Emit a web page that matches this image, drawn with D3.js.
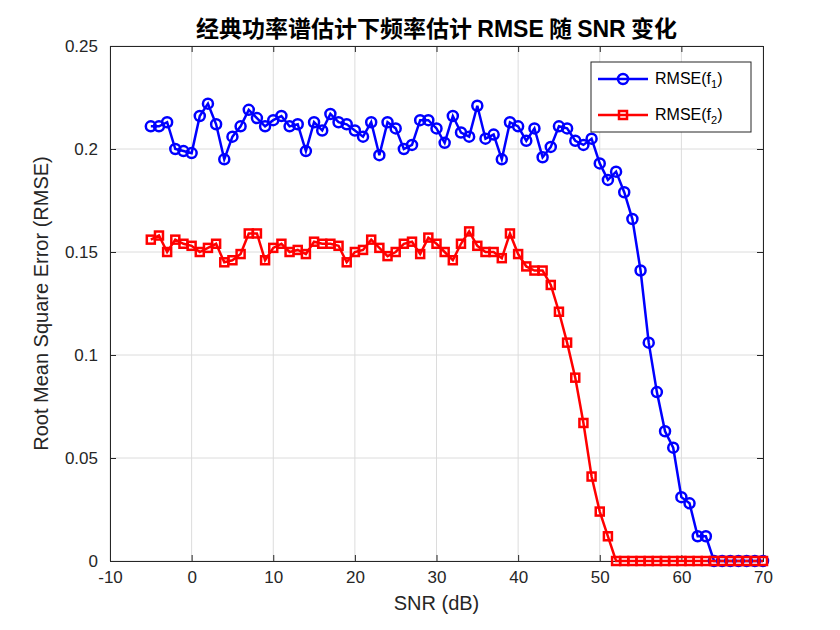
<!DOCTYPE html>
<html><head><meta charset="utf-8">
<script src="https://cdn.jsdelivr.net/npm/d3@7"></script>
<style>body{margin:0;background:#fff}svg{font-family:"Liberation Sans",Arial,sans-serif}</style>
</head><body><svg id="c" width="840" height="630"></svg>
<script>
const snr = d3.range(-5, 71);
const rmse1 = [0.211,0.211,0.213,0.200,0.199,0.198,0.216,0.222,0.212,0.195,0.206,0.211,0.219,0.215,0.211,0.214,0.216,0.211,0.212,0.199,0.213,0.209,0.217,0.213,0.212,0.209,0.206,0.213,0.197,0.213,0.210,0.200,0.202,0.214,0.214,0.210,0.203,0.216,0.208,0.206,0.221,0.205,0.207,0.195,0.213,0.211,0.204,0.210,0.196,0.201,0.211,0.210,0.204,0.202,0.205,0.193,0.185,0.189,0.179,0.166,0.141,0.106,0.082,0.063,0.055,0.031,0.028,0.012,0.012,0,0,0,0,0,0,0,0];
const rmse2 = [0.156,0.158,0.150,0.156,0.154,0.153,0.150,0.152,0.154,0.145,0.146,0.149,0.159,0.159,0.146,0.152,0.154,0.150,0.151,0.149,0.155,0.154,0.154,0.153,0.145,0.150,0.151,0.156,0.152,0.148,0.150,0.154,0.155,0.149,0.157,0.154,0.150,0.146,0.154,0.160,0.153,0.150,0.150,0.147,0.159,0.149,0.143,0.141,0.141,0.134,0.121,0.106,0.089,0.067,0.041,0.024,0.012,0,0,0,0,0,0,0,0,0,0,0,0,0,0,0,0,0,0,0];
const xTicks = [-10,0,10,20,30,40,50,60,70];
const yTicks = [0,0.05,0.1,0.15,0.2,0.25];

const svg = d3.select("#c");
const L=110,R=763,T=46,B=561;
const x = d3.scaleLinear().domain([-10,70]).range([L,R]);
const y = d3.scaleLinear().domain([0,0.25]).range([B,T]);

const g = svg.append("g");
g.selectAll(".gx").data(xTicks).join("line").attr("x1",d=>x(d)).attr("x2",d=>x(d)).attr("y1",T).attr("y2",B).attr("stroke","#dcdcdc");
g.selectAll(".gy").data(yTicks).join("line").attr("y1",d=>y(d)).attr("y2",d=>y(d)).attr("x1",L).attr("x2",R).attr("stroke","#dcdcdc");

svg.append("g").attr("transform",`translate(0,${B})`).call(d3.axisBottom(x).tickValues(xTicks).tickFormat(d=>String(d)).tickSize(-6).tickPadding(10));
svg.append("g").attr("transform",`translate(${L},0)`).call(d3.axisLeft(y).tickValues(yTicks).tickFormat(d=>d===0?"0":String(d)).tickSize(-6).tickPadding(12));
svg.append("g").attr("transform",`translate(0,${T})`).call(d3.axisTop(x).tickValues(xTicks).tickSize(-6).tickFormat(""));
svg.append("g").attr("transform",`translate(${R},0)`).call(d3.axisRight(y).tickValues(yTicks).tickSize(-6).tickFormat(""));
svg.selectAll(".domain,.tick line").attr("stroke","#262626");
svg.selectAll(".tick text").attr("font-size",17).attr("fill","#262626");

const d1 = snr.map((s,i)=>[s,rmse1[i]]), d2 = snr.map((s,i)=>[s,rmse2[i]]);
const line = d3.line().x(d=>x(d[0])).y(d=>y(d[1]));
svg.append("path").datum(d1).attr("d",line).attr("fill","none").attr("stroke","#0000ff").attr("stroke-width",2.5);
svg.append("path").datum(d2).attr("d",line).attr("fill","none").attr("stroke","#ff0000").attr("stroke-width",2.5);
svg.selectAll(".m1").data(d1).join("circle").attr("cx",d=>x(d[0])).attr("cy",d=>y(d[1])).attr("r",5).attr("fill","none").attr("stroke","#0000ff").attr("stroke-width",2.5);
svg.selectAll(".m2").data(d2).join("rect").attr("x",d=>x(d[0])-4).attr("y",d=>y(d[1])-4).attr("width",8).attr("height",8).attr("fill","none").attr("stroke","#ff0000").attr("stroke-width",2.5);

svg.append("text").attr("x",(L+R)/2).attr("y",610).attr("text-anchor","middle").attr("font-size",20).attr("fill","#262626").text("SNR (dB)");
svg.append("text").attr("transform",`translate(48,${(T+B)/2}) rotate(-90)`).attr("text-anchor","middle").attr("font-size",20).attr("fill","#262626").text("Root Mean Square Error (RMSE)");
const t = svg.append("text").attr("x",(L+R)/2).attr("y",37).attr("text-anchor","middle").attr("font-size",23).attr("font-weight","bold").attr("fill","#000");
t.append("tspan").attr("font-family","'Noto Sans CJK SC'").text("经典功率谱估计下频率估计 ");
t.append("tspan").text("RMSE");
t.append("tspan").attr("font-family","'Noto Sans CJK SC'").text(" 随 ");
t.append("tspan").text("SNR");
t.append("tspan").attr("font-family","'Noto Sans CJK SC'").text(" 变化");

const lg = svg.append("g");
lg.append("rect").attr("x",591).attr("y",62).attr("width",160).attr("height",70).attr("fill","#fff").attr("stroke","#262626");
[["#0000ff","1",79],["#ff0000","2",115]].forEach(([c,s,yy],i)=>{
  lg.append("line").attr("x1",598).attr("x2",648).attr("y1",yy).attr("y2",yy).attr("stroke",c).attr("stroke-width",2.5);
  if(i===0) lg.append("circle").attr("cx",623).attr("cy",yy).attr("r",5).attr("fill","none").attr("stroke",c).attr("stroke-width",2.5);
  else lg.append("rect").attr("x",619).attr("y",yy-4).attr("width",8).attr("height",8).attr("fill","none").attr("stroke",c).attr("stroke-width",2.5);
  const tx = lg.append("text").attr("x",655).attr("y",yy+5).attr("font-size",16).attr("fill","#000");
  tx.append("tspan").text("RMSE(f");
  tx.append("tspan").attr("font-size",11).attr("dy",4).text(s);
  tx.append("tspan").attr("dy",-4).text(")");
});
</script></body></html>
